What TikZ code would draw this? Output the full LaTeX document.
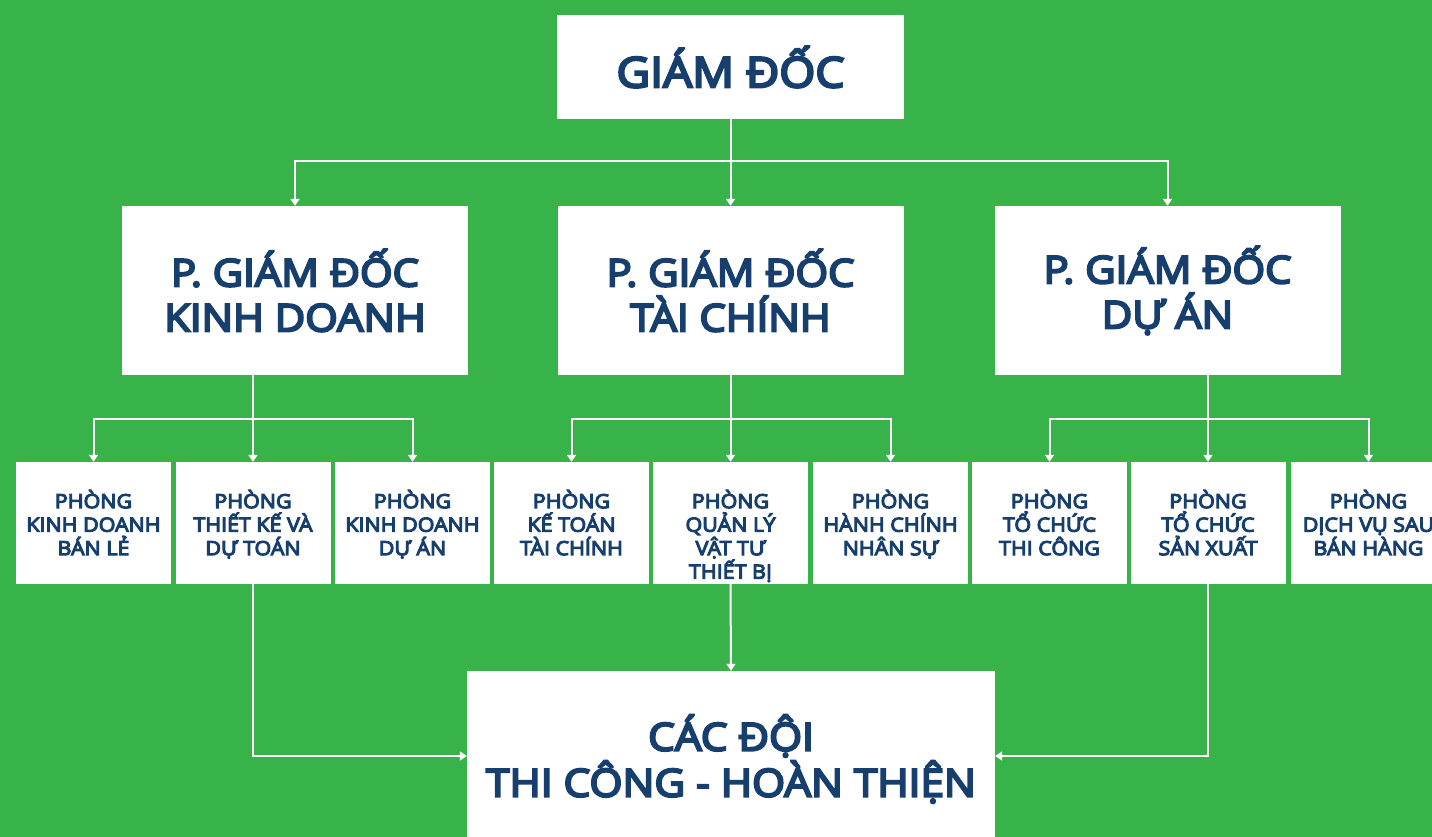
\documentclass[tikz,border=0pt]{standalone}
\usepackage{fontspec}
\setmainfont{Noto Sans}
\newfontfamily\heavyfont{Open Sans}[FakeBold=5.5, FakeStretch=1.1]
\usetikzlibrary{arrows.meta}
\definecolor{bggreen}{HTML}{38B34A}
\definecolor{navy}{HTML}{173F6E}
\tikzset{
  box/.style={rectangle, fill=white, draw=none, inner sep=0pt, align=center,
    text=navy, font=\heavyfont},
  topbox/.style={box, minimum width=347pt, minimum height=104pt, font=\heavyfont\fontsize{42}{50}\selectfont},
  pbox/.style={box, minimum width=346pt, minimum height=169pt, font=\heavyfont\fontsize{38}{45}\selectfont},
  sbox/.style={box, minimum width=155pt, minimum height=122pt},
  stext/.style={text=navy, align=center, inner sep=0pt, font=\heavyfont\fontsize{19.5}{23.5}\selectfont},
  botbox/.style={box, minimum width=528pt, minimum height=200pt},
  conn/.style={draw=white, line width=2pt},
  arr/.style={conn, -{Triangle[width=9pt,length=7pt]}},
}
\begin{document}
\begin{tikzpicture}[x=1pt,y=-1pt]
\useasboundingbox (0,0) rectangle (1432,837);
\clip (0,0) rectangle (1432,837);
\fill[bggreen] (0,0) rectangle (1432,837);
% top
\node[topbox] (gd) at (730.5,67) {GIÁM ĐỐC};
% deputies
\node[pbox] (p1) at (295,290.5) {P. GIÁM ĐỐC\\KINH DOANH};
\node[pbox] (p2) at (730.5,290.5) {P. GIÁM ĐỐC\\TÀI CHÍNH};
\node[pbox] (p3) at (1167.5,290.5) {P. GIÁM ĐỐC\\DỰ ÁN};
% departments
\node[sbox, label={[stext,anchor=north,yshift=-28pt]north:{PHÒNG\\KINH DOANH\\BÁN LẺ}}] (a) at (93.5,523) {};
\node[sbox, label={[stext,anchor=north,yshift=-28pt]north:{PHÒNG\\THIẾT KẾ VÀ\\DỰ TOÁN}}] (b) at (253,523) {};
\node[sbox, label={[stext,anchor=north,yshift=-28pt]north:{PHÒNG\\KINH DOANH\\DỰ ÁN}}] (c) at (412.5,523) {};
\node[sbox, label={[stext,anchor=north,yshift=-28pt]north:{PHÒNG\\KẾ TOÁN\\TÀI CHÍNH}}] (d) at (571.5,523) {};
\node[sbox, label={[stext,anchor=north,yshift=-28pt]north:{PHÒNG\\QUẢN LÝ\\VẬT TƯ\\THIẾT BỊ}}] (e) at (730.5,523) {};
\node[sbox, label={[stext,anchor=north,yshift=-28pt]north:{PHÒNG\\HÀNH CHÍNH\\NHÂN SỰ}}] (f) at (890.5,523) {};
\node[sbox, label={[stext,anchor=north,yshift=-28pt]north:{PHÒNG\\TỔ CHỨC\\THI CÔNG}}] (g) at (1049.5,523) {};
\node[sbox, label={[stext,anchor=north,yshift=-28pt]north:{PHÒNG\\TỔ CHỨC\\SẢN XUẤT}}] (h) at (1208,523) {};
\node[sbox, label={[stext,anchor=north,yshift=-28pt]north:{PHÒNG\\DỊCH VỤ SAU\\BÁN HÀNG}}] (i) at (1368.5,523) {};
% bottom
\node[botbox] (bot) at (731,771) {};
\node[text=navy, align=center, inner sep=0pt, font=\heavyfont\fontsize{38.5}{46}\selectfont] (bott) at (731,759) {CÁC ĐỘI\\THI CÔNG - HOÀN THIỆN};
% connectors top
\draw[arr] (gd.south) -- ++(0,42) -| (p1.north);
\draw[arr] (gd.south) -- ++(0,42) -| (p3.north);
\draw[arr] (gd.south) -- (p2.north);
% group 1
\draw[arr] (b.north |- p1.south) -- (b.north);
\draw[arr] (b.north |- p1.south) -- ++(0,44) -| (a.north);
\draw[arr] (b.north |- p1.south) -- ++(0,44) -| (c.north);
% group 2
\draw[arr] (p2.south) -- (e.north);
\draw[arr] (p2.south) -- ++(0,44) -| (d.north);
\draw[arr] (p2.south) -- ++(0,44) -| (f.north);
% group 3
\draw[arr] (h.north |- p3.south) -- (h.north);
\draw[arr] (h.north |- p3.south) -- ++(0,44) -| (g.north);
\draw[arr] (h.north |- p3.south) -- ++(0,44) -| (i.north);
% to bottom
\coordinate (jy) at (0,756);
\draw[arr] (b.south) |- (bot.west |- jy);
\draw[arr] (h.south) |- (bot.east |- jy);
\draw[arr] (e.south) -- (bot.north);
\end{tikzpicture}
\end{document}
